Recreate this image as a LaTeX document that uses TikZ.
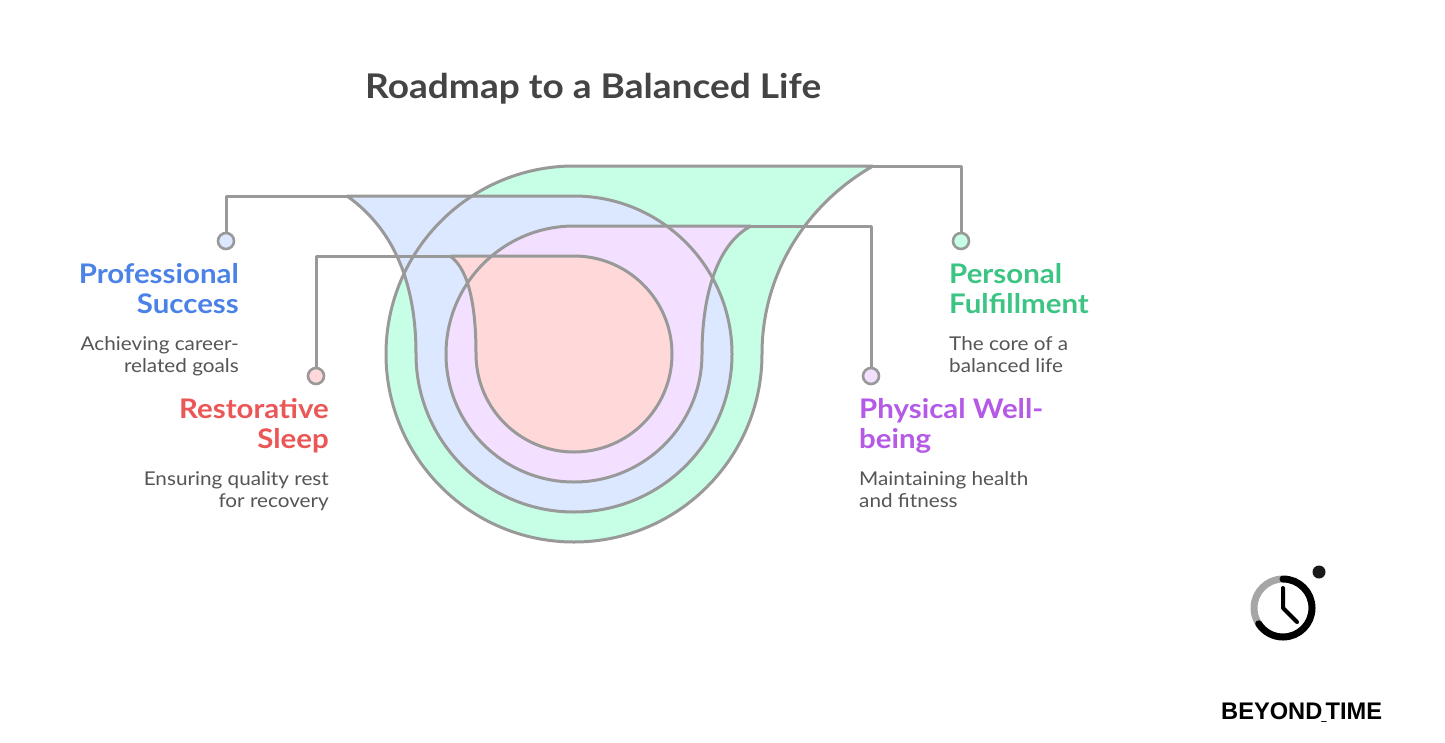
\documentclass[tikz,border=0pt]{standalone}
\usepackage{fontspec}
\setmainfont[FakeStretch=1.09]{Lato}
\newfontfamily\logofont{Liberation Sans}
\definecolor{linegray}{HTML}{999999}
\definecolor{fillgreen}{HTML}{C6FFE5}
\definecolor{fillblue}{HTML}{DBE8FF}
\definecolor{fillpink}{HTML}{F3DFFF}
\definecolor{fillred}{HTML}{FFD9D9}
\definecolor{txtgreen}{HTML}{3BC483}
\definecolor{txtblue}{HTML}{4A82E8}
\definecolor{txtred}{HTML}{EB5757}
\definecolor{txtpurple}{HTML}{B45AE6}
\definecolor{txtdark}{HTML}{444444}
\definecolor{txtdesc}{HTML}{555555}
\tikzset{
  x=1pt,y=-1pt,
  outline/.style={draw=linegray,line width=3pt,line join=round},
  dotmark/.style={circle,draw=linegray,line width=2.6pt,minimum size=16pt,inner sep=0pt},
  head/.style={inner sep=0pt,font=\fontsize{27}{30}\selectfont\bfseries},
  desc/.style={inner sep=0pt,text=txtdesc,font=\fontsize{19}{22}\selectfont},
}
\newcommand{\pgreen}{(873,166) -- (574,166) arc[start angle=270,end angle=0,radius=188] .. controls (762,275) and (805,205) .. (873,166)}
\newcommand{\pblue}{(347,196) -- (574,196) arc[start angle=270,end angle=540,radius=158] .. controls (416,285) and (395,230) .. (347,196)}
\newcommand{\ppink}{(751,226) -- (574,226) arc[start angle=270,end angle=0,radius=128] .. controls (702,300) and (715,245) .. (751,226)}
\newcommand{\pred}{(450,256) -- (574,256) arc[start angle=270,end angle=540,radius=98] .. controls (476,310) and (470,270) .. (450,256)}
\begin{document}
\begin{tikzpicture}
\useasboundingbox (0,0) rectangle (1445,742);
\fill[white] (0,0) rectangle (1445,742);
% fills
\fill[fillgreen] \pgreen;
\fill[fillblue] \pblue;
\fill[fillpink] \ppink;
\fill[fillred] \pred;
% outlines
\draw[outline] \pgreen;
\draw[outline] \pblue;
\draw[outline] \ppink;
\draw[outline] \pred;
% anchors of the connectors
\coordinate (gs) at (873,166);
\coordinate (bs) at (347,196);
\coordinate (ps) at (751,226);
\coordinate (rs) at (450,256);
% dots
\node[dotmark,fill=fillblue] (dblue) at (226,241) {};
\node[dotmark,fill=fillgreen] (dgreen) at (961,241) {};
\node[dotmark,fill=fillred] (dred) at (316,376) {};
\node[dotmark,fill=fillpink] (dpink) at (871,376) {};
% connectors
\draw[outline] (dblue) |- (bs);
\draw[outline] (dgreen) |- (gs);
\draw[outline] (dred) |- (rs);
\draw[outline] (dpink) |- (ps);
% title
\node[inner sep=0pt,anchor=base west,text=txtdark,font=\fontsize{34}{38}\selectfont\bfseries] (title) at (365,98) {Roadmap to a Balanced Life};
% labels
\node[head,text=txtblue,align=right,anchor=north east] (h1) at (239,263) {Professional\\Success};
\node[desc,align=right,anchor=north east] (d1) at (239,336) {Achieving career-\\related goals};
\node[head,text=txtred,align=right,anchor=north east] (h2) at (329,398) {Restorative\\Sleep};
\node[desc,align=right,anchor=north east] (d2) at (329,471) {Ensuring quality rest\\for recovery};
\node[head,text=txtgreen,align=left,anchor=north west] (h3) at (949,263) {Personal\\Fulfillment};
\node[desc,align=left,anchor=north west] (d3) at (949,336) {The core of a\\balanced life};
\node[head,text=txtpurple,align=left,anchor=north west] (h4) at (859,398) {Physical Well-\\being};
\node[desc,align=left,anchor=north west] (d4) at (859,471) {Maintaining health\\and fitness};
% clock logo
\draw[line width=7pt,color=black!35] (1283,579) arc[start angle=270,end angle=147,radius=29];
\draw[line width=7pt,color=black,line cap=round] (1283,579) arc[start angle=270,end angle=507,radius=29];
\draw[line width=4pt,color=black,line cap=round,line join=round] (1283,588) -- (1283,608) -- (1297,622);
\fill[black!90] (1319,572) circle[radius=6.5];
\node[inner sep=0pt,anchor=base west,font=\logofont\bfseries\fontsize{24}{28}\selectfont] (logo) at (1221,719) {\scalebox{0.985}[1]{BEYOND\kern-1pt\raisebox{0pt}{\scalebox{.4}[1]{\_}}\kern-1pt TIME}};
\end{tikzpicture}
\end{document}
